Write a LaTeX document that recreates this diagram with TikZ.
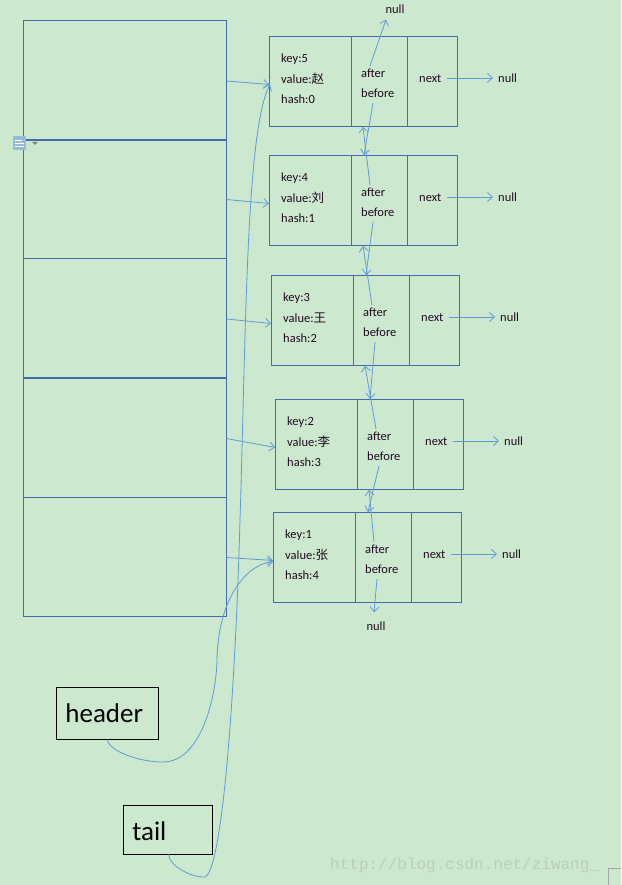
\documentclass[tikz,border=0pt]{standalone}
\usepackage{fontspec}
\setmainfont{Carlito}
\newfontfamily\cjk{Noto Sans CJK SC}
\newfontfamily\wmfont{Liberation Mono}
\usetikzlibrary{arrows.meta,calc}
\definecolor{bgc}{RGB}{204,232,207}
\definecolor{boxc}{RGB}{68,108,170}
\definecolor{arrc}{RGB}{95,155,215}
\definecolor{txtc}{RGB}{35,10,35}
\definecolor{wmc}{RGB}{188,206,188}
\definecolor{iconc}{RGB}{150,188,215}
\tikzset{
  cell/.style={draw=boxc, line width=0.9pt, minimum width=203pt, minimum height=119pt, inner sep=0pt},
  entry/.style={draw=boxc, line width=0.9pt, minimum width=188pt, minimum height=90pt, inner sep=0pt, anchor=north west},
  lbl/.style={font=\fontsize{12.5}{14}\selectfont, text=txtc, inner sep=0pt, anchor=west},
  ptr/.style={draw=arrc, line width=0.8pt, -{Straight Barb[length=5pt,width=9pt]}},
  curve/.style={draw=arrc, line width=0.8pt},
  hbox/.style={draw=black, line width=0.8pt, inner sep=0pt, font=\fontsize{27}{30}\selectfont}
}
\begin{document}
\begin{tikzpicture}[x=1pt,y=-1pt]
\fill[bgc] (0,0) rectangle (621,885);
\useasboundingbox (0,0) rectangle (621,885);
% array cells
\node[cell] (a1) at (124.5,80) {};
\node[cell] (a2) at (124.5,198.5) {};
\node[cell] (a3) at (124.5,318) {};
\node[cell] (a4) at (124.5,437.5) {};
\node[cell] (a5) at (124.5,556.5) {};
\draw[boxc, line width=1.8pt] (a1.south west) -- (a1.south east);
\draw[boxc, line width=1.8pt] (a3.south west) -- (a3.south east);
% small icon
\fill[iconc] (13,136) rectangle (26,150);
\draw[white, line width=0.6pt] (15,140) -- (22,140) (15,143) -- (24,143) (15,146) -- (24,146);
\fill[gray] (32,142) -- (38,142) -- (35,145) -- cycle;
% entries
\foreach \i/\x/\y/\k/\v/\h in {1/269/36/5/赵/0, 2/269/155/4/刘/1, 3/271/275/3/王/2, 4/275/399/2/李/3, 5/273/512/1/张/4} {
  \node[entry] (e\i) at (\x,\y) {};
  \draw[boxc, line width=0.9pt] ($(e\i.north west)+(82,0)$) -- ($(e\i.south west)+(82,0)$);
  \draw[boxc, line width=0.9pt] ($(e\i.north west)+(138,0)$) -- ($(e\i.south west)+(138,0)$);
  \node[lbl] (k\i) at ($(e\i.north west)+(12,23)$) {key:\k};
  \node[lbl] (v\i) at ($(e\i.north west)+(12,43)$) {value:{\cjk\v}};
  \node[lbl] (h\i) at ($(e\i.north west)+(12,63)$) {hash:\h};
  \node[lbl] (af\i) at ($(e\i.north west)+(92,37)$) {after};
  \node[lbl] (bf\i) at ($(e\i.north west)+(92,57)$) {before};
  \node[lbl] (nx\i) at ($(e\i.north west)+(150,43)$) {next};
  \node[lbl] (nl\i) at ($(e\i.north west)+(229,42)$) {null};
  \draw[ptr, shorten >=5pt] ($(e\i.north west)+(178,42)$) -- (nl\i.west);
  \draw[ptr] ($(a\i.east)+(0,1)$) -- ($(e\i.west)+(0,3)$);
}
% top and bottom null
\node[lbl, anchor=center] (ntop) at (395,9) {null};
\node[lbl, anchor=center] (nbot) at (376,626) {null};
\draw[ptr] ($(e1.north west)+(101,30)$) -- ($(ntop.south)+(-9,6)$);
\draw[ptr] ($(e5.north west)+(104,67)$) -- ($(nbot.north)+(-2,-9)$);
% before / after pointers between entries
\foreach \a/\b in {1/2, 2/3, 3/4, 4/5} {
  \draw[ptr] ($(e\a.north west)+(104,67)$) -- ($(e\b.north west)+(95,0)$);
  \draw[ptr] ($(e\b.north west)+(101,30)$) -- ($(e\a.south west)+(94,0)$);
}
% header and tail
\node[hbox, minimum width=102pt, minimum height=52pt] (hd) at (107,713) {};
\node[hbox, draw=none, anchor=west] (hdt) at (65,713) {header};
\node[hbox, minimum width=89pt, minimum height=49pt] (tl) at (167.5,829.5) {};
\node[hbox, draw=none, anchor=west] (tlt) at (132,831) {tail};
\coordinate (hc1) at (163,762);
\coordinate (hc2) at (217,660);
\draw[curve, -{Straight Barb[length=5pt,width=9pt]}] (hd.south) .. controls (110,752) and (140,762) .. (hc1) .. controls (200,762) and (216,700) .. (hc2) .. controls (218,600) and (245,565) .. ($(e5.west)+(0,4)$);
\coordinate (tc1) at (205,877);
\coordinate (tc2) at (240,520);
\draw[curve, -{Straight Barb[length=5pt,width=9pt]}] ($(tl.south)+(1,0)$) .. controls (170,868) and (195,878) .. (tc1) .. controls (222,870) and (235,700) .. (tc2) .. controls (246,330) and (246,130) .. ($(e1.west)+(1,3)$);
% watermark
\node[font=\wmfont\fontsize{16}{18}\selectfont, text=wmc, inner sep=0pt, anchor=west] (wm) at (330,865) {http://blog.csdn.net/ziwang\_};
\draw[gray!70, line width=0.8pt] (621,868) -- (608,868) -- (608,885);
\end{tikzpicture}
\end{document}
